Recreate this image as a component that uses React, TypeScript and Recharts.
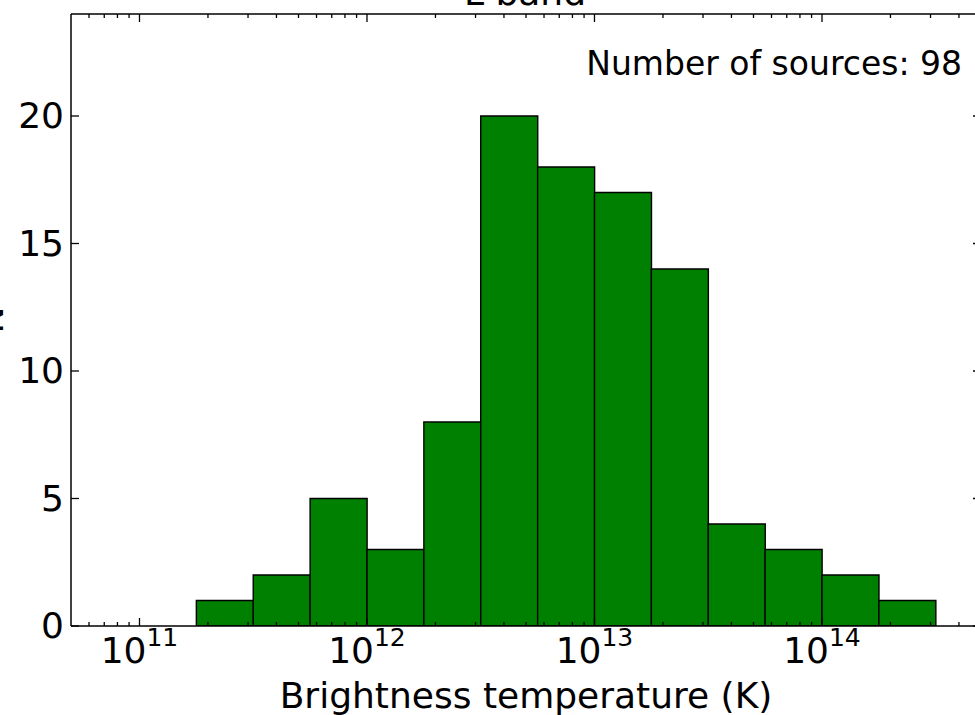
import React from 'react';
import { ComposedChart, Bar, XAxis, YAxis, ReferenceLine, Customized } from 'recharts';

// histogram bins, edges in log10(K)
const binEdges = [11.25, 11.5, 11.75, 12.0, 12.25, 12.5, 12.75, 13.0, 13.25, 13.5, 13.75, 14.0, 14.25, 14.5];
const counts = [1, 2, 5, 3, 8, 20, 18, 17, 14, 4, 3, 2, 1];

const xLimits = [5e10, 5e14];
const decades = [10, 11, 12, 13, 14];
const minorSteps = [1, 2, 3, 4, 5, 6, 7, 8, 9];
const yTicks = [0, 5, 10, 15, 20];
const yMax = 24;

const title = 'L band';
const xLabel = 'Brightness temperature (K)';
const yLabel = 'N';
const note = 'Number of sources: 98';

const FONT = '"DejaVu Sans", "Bitstream Vera Sans", sans-serif';

const data = counts.map((c, i) => ({
    center: (binEdges[i] + binEdges[i + 1]) / 2,
    count: c,
}));

const xDomain = [Math.log10(xLimits[0]), Math.log10(xLimits[1])];

const xTicks: number[] = [];
decades.forEach((d) => {
    minorSteps.forEach((m) => {
        const v = d + Math.log10(m);
        if (v > xDomain[0] + 1e-6 && v < xDomain[1] - 1e-6) xTicks.push(v);
    });
});
const xMajor = xTicks.filter((v) => Math.abs(v - Math.round(v)) < 1e-6);

const isMajor = (v: number) => Math.abs(v - Math.round(v)) < 1e-6;

// matplotlib-style inward ticks on both spines, drawn above the bars
const vTickShape = (v: number) => (p: any) => {
    const len = isMajor(v) ? 8 : 4;
    const lo = Math.max(p.y1, p.y2);
    const hi = Math.min(p.y1, p.y2);
    return (
        <g stroke="#000" strokeWidth={1.3}>
            <line x1={p.x1} x2={p.x1} y1={lo} y2={lo - len} />
            <line x1={p.x1} x2={p.x1} y1={hi} y2={hi + len} />
        </g>
    );
};

const hTickShape = (p: any) => {
    const l = Math.min(p.x1, p.x2);
    const r = Math.max(p.x1, p.x2);
    return (
        <g stroke="#000" strokeWidth={1.3}>
            <line x1={l} x2={l + 8} y1={p.y1} y2={p.y1} />
            <line x1={r} x2={r - 8} y1={p.y1} y2={p.y1} />
        </g>
    );
};

const XLabelTick = (props: any) => {
    const { x, y, payload } = props;
    return (
        <text x={x} y={y + 37} textAnchor="middle" fontSize={36} fontFamily={FONT} fill="#000">
            10
            <tspan dy={-17} fontSize={25}>{Math.round(payload.value)}</tspan>
        </text>
    );
};

const YLabelTick = (props: any) => {
    const { x, y, payload } = props;
    return (
        <text x={x - 7} y={y + 12} textAnchor="end" fontSize={36} fontFamily={FONT} fill="#000">
            {payload.value}
        </text>
    );
};

const Texts = () => (
    <g fontFamily={FONT} fill="#000">
        <text x={525} y={5} textAnchor="middle" fontSize={36}>{title}</text>
        <text x={962} y={75} textAnchor="end" fontSize={33}>{note}</text>
        <text x={526} y={708} textAnchor="middle" fontSize={36}>{xLabel}</text>
        <text x={3} y={320} textAnchor="middle" fontSize={36} transform="rotate(-90, 3, 320)">{yLabel}</text>
    </g>
);

const axisLine = { stroke: '#000', strokeWidth: 1.5 };

export default function App() {
    return (
        <div style={{ position: 'absolute', left: 0, top: 0, width: 975, height: 715, overflow: 'hidden', background: '#fff' }}>
            <ComposedChart
                width={990}
                height={715}
                data={data}
                margin={{ top: 0, right: 9, bottom: 0, left: 0 }}
                barCategoryGap={0}
                barGap={0}
            >
                <XAxis
                    xAxisId="bottom"
                    dataKey="center"
                    type="number"
                    orientation="bottom"
                    domain={xDomain}
                    allowDataOverflow
                    ticks={xMajor}
                    interval={0}
                    height={89}
                    tickSize={0}
                    tickMargin={0}
                    tickLine={false}
                    axisLine={axisLine}
                    tick={XLabelTick}
                />
                <XAxis
                    xAxisId="top"
                    type="number"
                    orientation="top"
                    domain={xDomain}
                    allowDataOverflow
                    height={14}
                    tick={false}
                    tickLine={false}
                    axisLine={axisLine}
                />
                <YAxis
                    yAxisId="left"
                    type="number"
                    orientation="left"
                    domain={[0, yMax]}
                    allowDataOverflow
                    ticks={yTicks}
                    interval={0}
                    width={71}
                    tickSize={0}
                    tickMargin={0}
                    tickLine={false}
                    axisLine={axisLine}
                    tick={YLabelTick}
                />
                <Bar
                    xAxisId="bottom"
                    yAxisId="left"
                    dataKey="count"
                    fill="#008000"
                    stroke="#000"
                    strokeWidth={1.4}
                    isAnimationActive={false}
                />
                {xTicks.map((v) => (
                    <ReferenceLine
                        key={`xt-${v}`}
                        xAxisId="bottom"
                        yAxisId="left"
                        x={v}
                        shape={vTickShape(v)}
                    />
                ))}
                {yTicks.map((v) => (
                    <ReferenceLine
                        key={`yt-${v}`}
                        xAxisId="bottom"
                        yAxisId="left"
                        y={v}
                        shape={hTickShape}
                    />
                ))}
                <Customized component={Texts} />
            </ComposedChart>
        </div>
    );
}
